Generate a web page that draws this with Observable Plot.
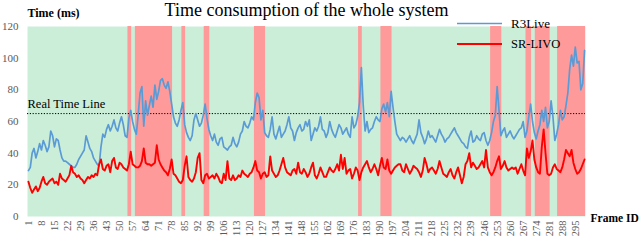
<!DOCTYPE html>
<html><head><meta charset="utf-8">
<script src="https://cdn.jsdelivr.net/npm/d3@7"></script>
<script src="https://cdn.jsdelivr.net/npm/@observablehq/plot@0.6"></script>
<style>body{margin:0;background:#fff} svg{display:block}</style>
</head><body><div id="chart"></div>
<script>
const r3live = [
29,31,40,43,37,41,46,42,48,45,
41,44,54,51,44,49,48,42,37,35,
35,34,33,32,31,31,33,36,38,40,
42,51,47,43,41,37,35,33,32,44,
52,50,55,58,54,57,61,56,54,59,
63,58,51,50,62,67,60,55,52,64,
78,82,57,73,64,70,76,69,83,74,
79,86,87,83,81,85,79,71,63,59,
57,61,67,72,58,53,50,48,51,61,
65,61,57,59,64,71,62,55,51,48,
52,47,45,49,50,44,43,42,44,45,
50,46,44,47,52,54,60,57,56,59,
63,61,72,78,75,61,67,53,51,50,
55,63,52,49,53,57,50,52,54,58,
63,56,54,48,53,56,58,54,55,60,
57,61,48,52,56,54,57,63,55,54,
50,53,60,55,52,50,54,58,56,52,
54,56,52,50,63,56,58,63,72,94,
70,54,60,53,55,56,60,63,61,60,
68,71,66,72,63,79,69,60,52,50,
48,50,49,47,49,51,48,46,49,52,
61,53,50,46,49,54,50,51,49,47,
51,55,52,50,47,49,50,52,54,56,
53,51,49,47,46,44,43,50,54,47,
48,51,49,48,52,53,48,45,48,53,
60,64,82,67,51,54,56,50,52,54,
51,49,51,53,55,56,60,50,54,63,
71,60,53,49,54,58,67,60,69,56,
60,73,63,48,52,58,67,61,63,70,
78,93,102,95,107,97,98,80,84,105];

const srlivo = [
22,18,15,17,19,16,18,22,25,21,
20,22,23,24,21,22,20,27,24,23,
22,24,26,32,28,27,25,26,24,23,
21,23,25,24,26,25,27,26,33,36,
30,29,32,33,28,35,37,31,30,34,
33,31,30,29,33,41,33,32,31,31,
32,35,43,34,33,33,32,33,34,45,
36,33,31,29,28,26,30,36,27,26,
24,22,21,23,32,38,25,23,22,24,
28,37,40,23,21,26,27,24,25,26,
24,27,25,22,21,27,23,35,24,23,
26,23,24,26,25,29,27,26,25,27,
28,31,35,29,28,24,27,28,25,26,
38,29,27,25,26,29,33,37,31,28,
27,26,29,30,27,34,28,27,30,28,
25,27,31,34,26,24,27,31,28,25,
25,28,31,29,28,30,33,29,39,30,
37,27,29,30,24,27,31,29,23,28,
31,33,35,31,28,30,33,30,26,32,
37,31,30,36,29,27,29,31,32,33,
33,29,28,33,30,27,29,32,31,30,
28,25,29,37,33,28,30,31,29,27,
30,35,31,27,26,25,28,30,26,24,
28,31,26,21,25,33,35,40,31,34,
32,30,31,33,35,31,42,31,28,26,
28,31,35,38,30,32,35,31,29,30,
31,30,31,27,30,33,29,26,43,37,
41,48,36,31,28,27,44,55,40,27,
26,27,31,33,30,29,28,31,36,42,
40,38,42,34,30,27,28,30,33,36];

// frames where the system is over the real-time limit (pink bands)
const overStart = [55, 59, 84, 96, 123, 179, 191, 250, 269, 274, 286];
const overEnd   = [56, 78, 85, 98, 128, 180, 196, 255, 271, 281, 300];

const yTicks = [0, 20, 40, 60, 80, 100, 120];
const xTicks = [1,8,15,22,29,36,43,50,57,64,71,78,85,92,99,106,113,120,127,134,141,148,155,162,169,176,183,190,197,204,211,218,225,232,239,246,253,260,267,274,281,288,295];
const realTime = [65];
const seriesNames = ["R3Live", "SR-LIVO"];
const seriesColors = ["#5b9bd5", "#ff0000"];
const titleText = "Time consumption of the whole system";
const yTitle = "Time (ms)";
const xTitle = "Frame ID";
const refLabel = "Real Time Line";

const data = r3live.map((v, i) => ({frame: i + 1, r3: v, sr: srlivo[i]}));
const regions = overStart.map((s, i) => ({start: s, end: overEnd[i]}));
const serif = '"Liberation Serif","Times New Roman",serif';

const plot = Plot.plot({
  width: 640, height: 241,
  marginLeft: 27, marginRight: 55, marginTop: 26, marginBottom: 25,
  style: {fontFamily: serif, background: "#fff", overflow: "visible", color: "#000"},
  x: {domain: [0.5, 300.5]},
  y: {domain: [0, 120]},
  marks: [
    Plot.frame({fill: "#cbeed9", stroke: "none"}),
    Plot.rect(regions, {x1: d => d.start - 0.5, x2: d => d.end + 0.5, fill: "#ff9a9a"}),
    Plot.ruleY(realTime, {stroke: "#000", strokeWidth: 1, strokeDasharray: "1.2,1.6"}),
    Plot.lineY(data, {x: "frame", y: "r3", stroke: seriesColors[0], strokeWidth: 1.7}),
    Plot.lineY(data, {x: "frame", y: "sr", stroke: seriesColors[1], strokeWidth: 1.9}),
    Plot.axisY(yTicks, {tickSize: 0, tickPadding: 9, fontSize: 11, fill: "#595959", label: null}),
    Plot.axisX(xTicks, {tickSize: 0, tickPadding: 4, tickRotate: -90, fontSize: 10.5, fill: "#595959", label: null}),
    Plot.text([titleText], {frameAnchor: "top", dy: -16, fontSize: 18, lineAnchor: "middle", fill: "#000"}),
    Plot.text([yTitle], {frameAnchor: "top-left", textAnchor: "start", lineAnchor: "middle", dy: -13, dx: 0, fontSize: 12, fontWeight: "bold", fill: "#000"}),
    Plot.text([xTitle], {frameAnchor: "bottom-right", textAnchor: "start", lineAnchor: "middle", dx: 5, dy: 2, fontSize: 11.5, fontWeight: "bold", fill: "#000"}),
    Plot.text(realTime, {y: d => d, frameAnchor: "left", textAnchor: "start", lineAnchor: "middle", dy: -10, text: () => refLabel, fontSize: 12.5, fill: "#000"})
  ]
});

// legend (inside the plot, top right)
const svg = d3.select(plot);
const lg = svg.append("g").attr("font-family", serif).attr("text-anchor", "start");
seriesNames.forEach((name, i) => {
  const y = 23.5 + i * 20.5;
  lg.append("line").attr("x1", 457).attr("x2", 502).attr("y1", y).attr("y2", y)
    .attr("stroke", seriesColors[i]).attr("stroke-width", i ? 2 : 1.6);
  lg.append("text").attr("x", 511).attr("y", y).attr("dy", "0.35em")
    .attr("text-anchor", "start")
    .attr("font-size", i ? 12.5 : 13).attr("fill", "#000").text(name);
});

document.getElementById("chart").appendChild(plot);
</script>
</body></html>
